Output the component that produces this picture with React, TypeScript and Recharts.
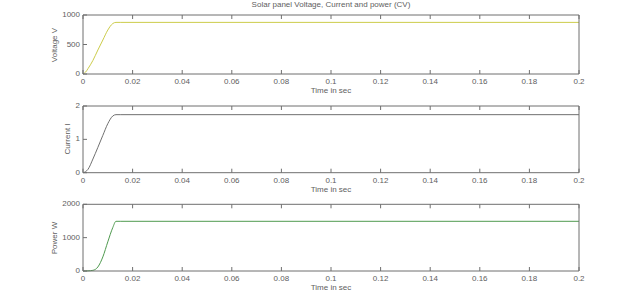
import { LineChart, Line, XAxis, YAxis } from "recharts";

const time = [0, 0.001, 0.002, 0.004, 0.006, 0.008, 0.01, 0.012, 0.0133, 0.015, 0.05, 0.1, 0.15, 0.2];
const voltage = [0, 30, 90, 230, 407, 576, 745, 855, 875, 875, 875, 875, 875, 875];
const current = [0, 0.03, 0.1, 0.41, 0.76, 1.12, 1.47, 1.7, 1.74, 1.74, 1.74, 1.74, 1.74, 1.74];
const power = [0, 2, 5, 20, 121, 422, 875, 1300, 1490, 1490, 1490, 1490, 1490, 1490];

const timeTicks = [0, 0.02, 0.04, 0.06, 0.08, 0.1, 0.12, 0.14, 0.16, 0.18, 0.2];
const voltageTicks = [0, 500, 1000];
const currentTicks = [0, 1, 2];
const powerTicks = [0, 1000, 2000];

const data = time.map((t, i) => ({ t, v: voltage[i], c: current[i], p: power[i] }));

const AXIS = "#6f6f6f";
const TEXT = "#606060";
const FONT = "'Liberation Sans', Arial, sans-serif";
const FS = 8;

const fmt = (v: number) => String(Number(v.toFixed(2)));

const BottomTick = (props: any) => {
  const { x, y, payload } = props;
  return (
    <g>
      <line x1={x} x2={x} y1={y} y2={y - 4} stroke={AXIS} />
      <text x={x} y={y + 8} textAnchor="middle" dominantBaseline="middle" fill={TEXT} fontSize={FS} fontFamily={FONT}>
        {fmt(payload.value)}
      </text>
    </g>
  );
};

const TopTick = (props: any) => {
  const { x, y } = props;
  return <line x1={x} x2={x} y1={y} y2={y + 4} stroke={AXIS} />;
};

const LeftTick = (props: any) => {
  const { x, y, payload } = props;
  return (
    <g>
      <line x1={x} x2={x + 4} y1={y} y2={y} stroke={AXIS} />
      <text x={x - 3} y={y} textAnchor="end" dominantBaseline="middle" fill={TEXT} fontSize={FS} fontFamily={FONT}>
        {payload.value}
      </text>
    </g>
  );
};

const RightTick = (props: any) => {
  const { x, y } = props;
  return <line x1={x} x2={x - 4} y1={y} y2={y} stroke={AXIS} />;
};

type PanelProps = {
  top: number;
  height: number;
  plotTop: number;
  plotBottom: number;
  dataKey: string;
  color: string;
  ticks: number[];
  yLabel: string;
  yLabelX: number;
};

function Panel({ top, height, plotTop, plotBottom, dataKey, color, ticks, yLabel, yLabelX }: PanelProps) {
  const domain = [ticks[0], ticks[ticks.length - 1]];
  const mid = top + (plotTop + plotBottom) / 2;
  return (
    <>
      <div style={{ position: "absolute", left: 0, top }}>
        <LineChart
          width={640}
          height={height}
          data={data}
          margin={{ top: plotTop - 1, bottom: height - plotBottom - 1, left: 82, right: 60 }}
          style={{ overflow: "visible" }}
        >
          <XAxis
            dataKey="t"
            type="number"
            domain={[0, 0.2]}
            ticks={timeTicks}
            interval={0}
            height={1}
            tickLine={false}
            tickSize={0}
            tickMargin={0}
            stroke={AXIS}
            tick={<BottomTick />}
          />
          <XAxis
            xAxisId="top"
            dataKey="t"
            orientation="top"
            type="number"
            domain={[0, 0.2]}
            ticks={timeTicks}
            interval={0}
            height={1}
            tickLine={false}
            tickSize={0}
            tickMargin={0}
            stroke={AXIS}
            tick={<TopTick />}
          />
          <YAxis
            type="number"
            domain={domain}
            ticks={ticks}
            interval={0}
            width={1}
            tickLine={false}
            tickSize={0}
            tickMargin={0}
            stroke={AXIS}
            tick={<LeftTick />}
          />
          <YAxis
            yAxisId="right"
            orientation="right"
            type="number"
            domain={domain}
            ticks={ticks}
            interval={0}
            width={1}
            tickLine={false}
            tickSize={0}
            tickMargin={0}
            stroke={AXIS}
            tick={<RightTick />}
          />
          <Line
            dataKey={dataKey}
            type="monotone"
            stroke={color}
            strokeWidth={1}
            dot={false}
            isAnimationActive={false}
          />
        </LineChart>
      </div>
      <div
        style={{
          position: "absolute",
          left: yLabelX,
          top: mid,
          transform: "translate(-50%, -50%) rotate(-90deg)",
          whiteSpace: "nowrap",
          fontFamily: FONT,
          fontSize: FS,
          color: TEXT,
          lineHeight: 1,
        }}
      >
        {yLabel}
      </div>
      <div
        style={{
          position: "absolute",
          left: 331,
          top: top + plotBottom + 17,
          transform: "translate(-50%, -50%)",
          whiteSpace: "nowrap",
          fontFamily: FONT,
          fontSize: FS,
          color: TEXT,
          lineHeight: 1,
        }}
      >
        Time in sec
      </div>
    </>
  );
}

export default function App() {
  return (
    <div style={{ position: "absolute", left: 0, top: 0, width: 640, height: 295, background: "#fff", overflow: "hidden" }}>
      <div
        style={{
          position: "absolute",
          left: 331,
          top: 5,
          transform: "translate(-50%, -50%)",
          whiteSpace: "nowrap",
          fontFamily: FONT,
          fontSize: FS,
          color: TEXT,
          lineHeight: 1,
        }}
      >
        Solar panel Voltage, Current and power (CV)
      </div>
      <Panel top={0} height={98} plotTop={15} plotBottom={74} dataKey="v" color="#cccc4a" ticks={voltageTicks} yLabel="Voltage V" yLabelX={55} />
      <Panel top={98} height={98} plotTop={8} plotBottom={74.7} dataKey="c" color="#707070" ticks={currentTicks} yLabel="Current I" yLabelX={68} />
      <Panel top={196} height={99} plotTop={8.3} plotBottom={75} dataKey="p" color="#4f9a4f" ticks={powerTicks} yLabel="Power W" yLabelX={55} />
    </div>
  );
}
